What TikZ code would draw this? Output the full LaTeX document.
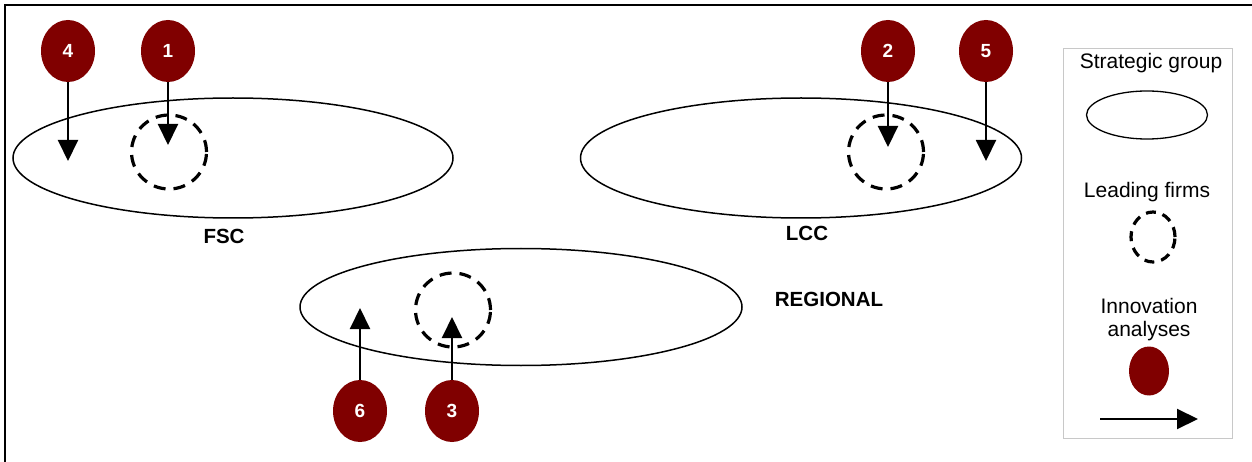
\documentclass[tikz,border=0pt]{standalone}
\usepackage{fontspec}
\setmainfont{Liberation Sans}
\usetikzlibrary{arrows.meta,shapes.geometric}
\definecolor{maroonred}{HTML}{800000}
\definecolor{legendgray}{HTML}{C8C8C8}
\begin{document}
\begin{tikzpicture}[x=1pt,y=-1pt,
  group/.style={draw,line width=1.5pt,ellipse,inner sep=0pt},
  leader/.style={draw,line width=3.2pt,dash pattern=on 12pt off 8pt,ellipse,inner sep=0pt,minimum width=75pt,minimum height=74pt},
  innov/.style={ellipse,fill=maroonred,inner sep=0pt,minimum width=54pt,minimum height=62pt,text=white,font=\fontsize{19}{21}\selectfont\bfseries},
  grouplabel/.style={font=\fontsize{20.5}{22}\selectfont\bfseries},
  legendtext/.style={font=\fontsize{21}{23}\selectfont,align=center},
  link/.style={line width=2pt,-{Triangle[width=20pt,length=21pt]}}]
\useasboundingbox (0,0) rectangle (1252,462);
\fill[white] (0,0) rectangle (1252,462);
% frame
\draw[line width=2pt] (5,462) -- (5,5) -- (1252,5);
% groups
\node[group,minimum width=440pt,minimum height=120pt] (fsc) at (233,158) {};
\node[group,minimum width=441pt,minimum height=120pt] (lcc) at (801,158) {};
\node[group,minimum width=442pt,minimum height=117pt] (reg) at (521,307) {};
\node[grouplabel] (fscl) at (224,236) {FSC};
\node[grouplabel] (lccl) at (807,233) {LCC};
\node[grouplabel] (regl) at (829,299) {REGIONAL};
% leading firms
\node[leader] (lf1) at (169,152) {};
\node[leader] (lf2) at (886,152) {};
\node[leader] (lf3) at (453,310) {};
% innovations
\node[innov] (n4) at (68,51) {4};
\node[innov] (n1) at (168,51) {1};
\node[innov] (n2) at (888,51) {2};
\node[innov] (n5) at (986,51) {5};
\node[innov] (n6) at (360,411) {6};
\node[innov] (n3) at (452,411) {3};
\coordinate (t4) at (68,161);
\coordinate (t1) at (168,145);
\coordinate (t2) at (888,147);
\coordinate (t5) at (986,161);
\coordinate (t6) at (360,308);
\coordinate (t3) at (452,317);
\draw[link] (n4.south) -- (t4);
\draw[link] (n1.south) -- (t1);
\draw[link] (n2.south) -- (t2);
\draw[link] (n5.south) -- (t5);
\draw[link] (n6.north) -- (t6);
\draw[link] (n3.north) -- (t3);
% legend
\node[draw=legendgray,line width=1pt,minimum width=169pt,minimum height=389pt,inner sep=0pt] (legend) at (1147.5,243.5) {};
\node[legendtext] (lg1) at (1151,63) {Strategic group};
\node[group,line width=1.3pt,minimum width=121pt,minimum height=48pt] (lge) at (1147,115) {};
\node[legendtext] (lg2) at (1147,192) {Leading firms};
\node[leader,minimum width=44pt,minimum height=50pt,dash pattern=on 10pt off 7pt] (lgl) at (1153,237) {};
\node[legendtext] (lg3) at (1149,320) {Innovation\\analyses};
\node[innov,minimum width=40pt,minimum height=49pt] (lgi) at (1149,371) {};
\coordinate (la1) at (1100,419);
\coordinate (la2) at (1198,419);
\draw[link] (la1) -- (la2);
\end{tikzpicture}
\end{document}
